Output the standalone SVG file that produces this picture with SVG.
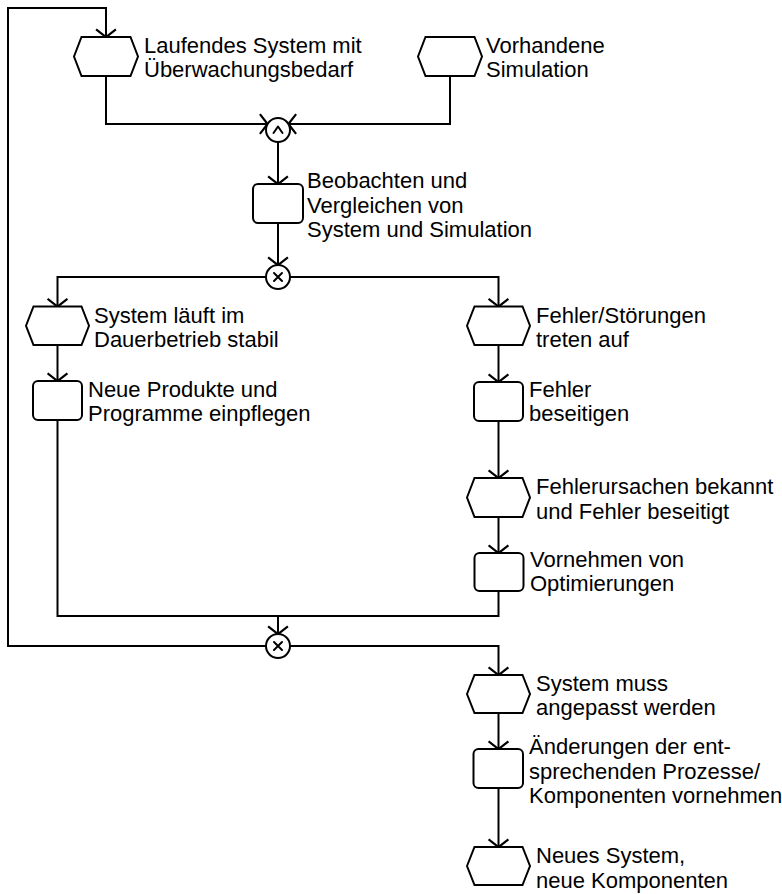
<svg xmlns="http://www.w3.org/2000/svg" width="782" height="894" viewBox="0 0 782 894">
  <style>
    .ev { fill: #ffffff; stroke: #000000; stroke-width: 2; stroke-linejoin: miter; }
    .fn { fill: #ffffff; stroke: #000000; stroke-width: 2; }
    .op { fill: #ffffff; stroke: #000000; stroke-width: 2; }
    .sym { fill: none; stroke: #000000; stroke-width: 2; stroke-linecap: round; stroke-linejoin: round; }
    .edge { fill: none; stroke: #000000; stroke-width: 2; }
    .arr { marker-end: url(#open); }
    .lbl { font-family: "Liberation Sans", Arial, sans-serif; font-size: 22px; fill: #000000; }
  </style>
  <defs>
    <marker id="open" markerUnits="userSpaceOnUse" markerWidth="20" markerHeight="22" viewBox="-9 -10 11 20" refX="0" refY="0" orient="auto">
      <path d="M-7,-9 L0,0 L-7,9" fill="none" stroke="#000000" stroke-width="2"/>
    </marker>
  </defs>

  <rect x="0" y="0" width="782" height="894" fill="#ffffff"/>

  <!-- connectors -->
  <g id="connectors">
    <path class="edge arr" d="M266,646 H8 V8 H106 V37"/>
    <path class="edge arr" d="M106,76 V124 H267.6"/>
    <path class="edge arr" d="M450,76 V124 H288.4"/>
    <path class="edge arr" d="M278,142 V184"/>
    <path class="edge arr" d="M278,223 V265"/>
    <path class="edge arr" d="M266,277 H57.5 V306.5"/>
    <path class="edge arr" d="M290,277 H498.5 V306.5"/>
    <path class="edge arr" d="M57.5,345 V381"/>
    <path class="edge arr" d="M57.5,420 V616 H278 V634"/>
    <path class="edge" d="M498.5,591 V616 H278"/>
    <path class="edge arr" d="M498.5,345 V382"/>
    <path class="edge arr" d="M498.5,421 V478"/>
    <path class="edge arr" d="M498.5,517 V553"/>
    <path class="edge arr" d="M290,646 H498.5 V675"/>
    <path class="edge arr" d="M498.5,713 V749"/>
    <path class="edge arr" d="M498.5,788 V847"/>
  </g>

  <!-- events -->
  <g id="ev-laufendes">
    <polygon class="ev" points="74,56.5 81.5,37 130.5,37 138,56.5 130.5,76 81.5,76"/>
    <text class="lbl" x="144" y="53"><tspan x="144">Laufendes System mit</tspan><tspan x="144" dy="24">Überwachungsbedarf</tspan></text>
  </g>
  <g id="ev-simulation">
    <polygon class="ev" points="418,56.5 425.5,37 474.5,37 482,56.5 474.5,76 425.5,76"/>
    <text class="lbl" x="486" y="53"><tspan x="486">Vorhandene</tspan><tspan x="486" dy="24">Simulation</tspan></text>
  </g>

  <!-- AND connector -->
  <g id="op-and">
    <circle class="op" cx="278" cy="130" r="12"/>
    <path class="sym" d="M273.5,133 L278,126.5 L282.5,133"/>
  </g>

  <g id="fn-beobachten">
    <rect class="fn" x="253" y="184" width="50" height="39" rx="5"/>
    <text class="lbl" x="307" y="188"><tspan x="307">Beobachten und</tspan><tspan x="307" dy="24.5">Vergleichen von</tspan><tspan x="307" dy="24.5">System und Simulation</tspan></text>
  </g>

  <!-- XOR split -->
  <g id="op-xor-split">
    <circle class="op" cx="278" cy="277" r="12"/>
    <path class="sym" d="M274,273 L282,281 M282,273 L274,281"/>
  </g>

  <g id="ev-stabil">
    <polygon class="ev" points="26,325.75 33.5,306.5 81.5,306.5 89,325.75 81.5,345 33.5,345"/>
    <text class="lbl" x="94" y="323"><tspan x="94">System läuft im</tspan><tspan x="94" dy="24">Dauerbetrieb stabil</tspan></text>
  </g>
  <g id="fn-einpflegen">
    <rect class="fn" x="33" y="381" width="49" height="39" rx="5"/>
    <text class="lbl" x="88" y="397"><tspan x="88">Neue Produkte und</tspan><tspan x="88" dy="23.5">Programme einpflegen</tspan></text>
  </g>

  <g id="ev-stoerungen">
    <polygon class="ev" points="467,325.75 474.5,306.5 522.5,306.5 530,325.75 522.5,345 474.5,345"/>
    <text class="lbl" x="536" y="323"><tspan x="536">Fehler/Störungen</tspan><tspan x="536" dy="24">treten auf</tspan></text>
  </g>
  <g id="fn-beseitigen">
    <rect class="fn" x="474" y="382" width="49" height="39" rx="5"/>
    <text class="lbl" x="529" y="397"><tspan x="529">Fehler</tspan><tspan x="529" dy="23.5">beseitigen</tspan></text>
  </g>
  <g id="ev-ursachen">
    <polygon class="ev" points="467,497.5 474.5,478 522.5,478 530,497.5 522.5,517 474.5,517"/>
    <text class="lbl" x="536" y="494"><tspan x="536">Fehlerursachen bekannt</tspan><tspan x="536" dy="24.5">und Fehler beseitigt</tspan></text>
  </g>
  <g id="fn-optimierungen">
    <rect class="fn" x="474.5" y="553" width="49" height="38" rx="5"/>
    <text class="lbl" x="530" y="567"><tspan x="530">Vornehmen von</tspan><tspan x="530" dy="24">Optimierungen</tspan></text>
  </g>

  <!-- XOR join -->
  <g id="op-xor-join">
    <circle class="op" cx="278" cy="646" r="12"/>
    <path class="sym" d="M274,642 L282,650 M282,642 L274,650"/>
  </g>

  <g id="ev-anpassen">
    <polygon class="ev" points="467,694 474.5,675 522.5,675 530,694 522.5,713 474.5,713"/>
    <text class="lbl" x="536" y="691"><tspan x="536">System muss</tspan><tspan x="536" dy="24">angepasst werden</tspan></text>
  </g>
  <g id="fn-aenderungen">
    <rect class="fn" x="473.5" y="749" width="49.5" height="39" rx="5"/>
    <text class="lbl" x="529" y="754"><tspan x="529">Änderungen der ent-</tspan><tspan x="529" dy="24.5">sprechenden Prozesse/</tspan><tspan x="529" dy="24.5">Komponenten vornehmen</tspan></text>
  </g>
  <g id="ev-neu">
    <polygon class="ev" points="467,866 474.5,847 522.5,847 530,866 522.5,885 474.5,885"/>
    <text class="lbl" x="536" y="863"><tspan x="536">Neues System,</tspan><tspan x="536" dy="24.5">neue Komponenten</tspan></text>
  </g>
</svg>
